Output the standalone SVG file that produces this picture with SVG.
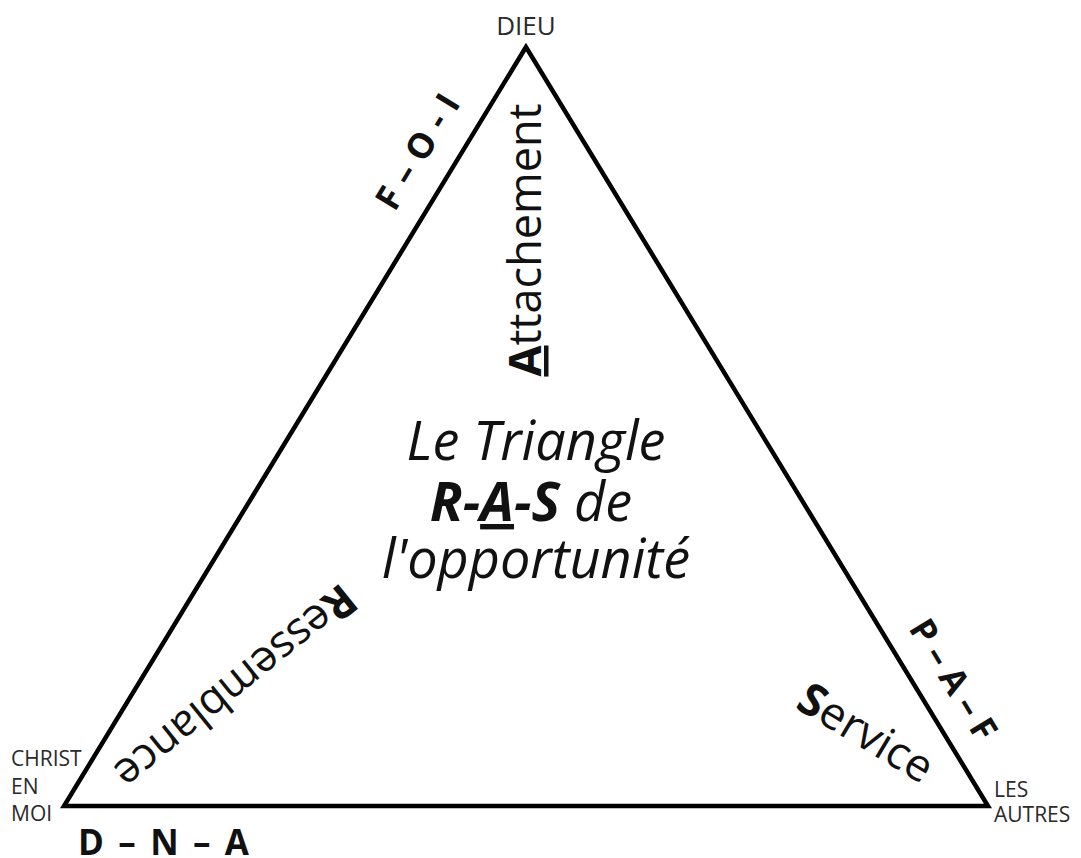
<svg xmlns="http://www.w3.org/2000/svg" width="1081" height="858" viewBox="0 0 1081 858">
<style>
text{font-family:"Open Sans","Noto Sans","Liberation Sans",sans-serif;fill:#111}
.lbl{font-size:21px;fill:#2a2a2a}
.edge{font-size:35px;font-weight:bold}
.big{font-size:45px}
.ctr{font-size:54px;font-style:italic;text-anchor:middle}
.b{font-weight:bold}
.u{text-decoration:underline}
</style>
<rect width="1081" height="858" fill="#fff"/>
<g id="connectors">
<polygon points="526,47 64,806 988,806" fill="none" stroke="#000" stroke-width="4.5" stroke-linejoin="miter"/>
</g>
<g id="dieu"><text class="lbl" x="526" y="35" text-anchor="middle" style="font-size:26px">DIEU</text></g>
<g id="christ">
<text class="lbl" x="11" y="766">CHRIST</text>
<text class="lbl" x="11" y="794">EN</text>
<text class="lbl" x="11" y="821">MOI</text>
</g>
<g id="autres">
<text class="lbl" x="994" y="797">LES</text>
<text class="lbl" x="994" y="822">AUTRES</text>
</g>
<g id="dna"><text x="78" y="855" style="font-size:35px;font-weight:bold" textLength="171" lengthAdjust="spacing">D – N – A</text></g>
<g id="foi"><text class="edge" x="0" y="0" text-anchor="middle" textLength="128" lengthAdjust="spacing" transform="translate(428,158) rotate(-58.7)">F – O - I</text></g>
<g id="paf"><text class="edge" x="0" y="0" text-anchor="middle" textLength="135" lengthAdjust="spacing" transform="translate(943,686) rotate(58.7)">P – A – F</text></g>
<g id="attachement"><text class="big" x="0" y="0" text-anchor="middle" transform="translate(541,240) rotate(-90)"><tspan class="b u">A</tspan>ttachement</text></g>
<g id="ressemblance"><text class="big" x="0" y="0" text-anchor="middle" transform="translate(226,675) rotate(141)" style="font-size:44px"><tspan class="b">R</tspan>essemblance</text></g>
<g id="service"><text class="big" x="0" y="0" text-anchor="middle" transform="translate(858,746) rotate(31)"><tspan class="b">S</tspan>ervice</text></g>
<g id="center">
<text class="ctr" x="536" y="460">Le Triangle</text>
<text class="ctr" x="531" y="521"><tspan class="b">R-</tspan><tspan class="b u">A</tspan><tspan class="b">-S</tspan> de</text>
<text class="ctr" x="536" y="578">l'opportunité</text>
</g>
</svg>
